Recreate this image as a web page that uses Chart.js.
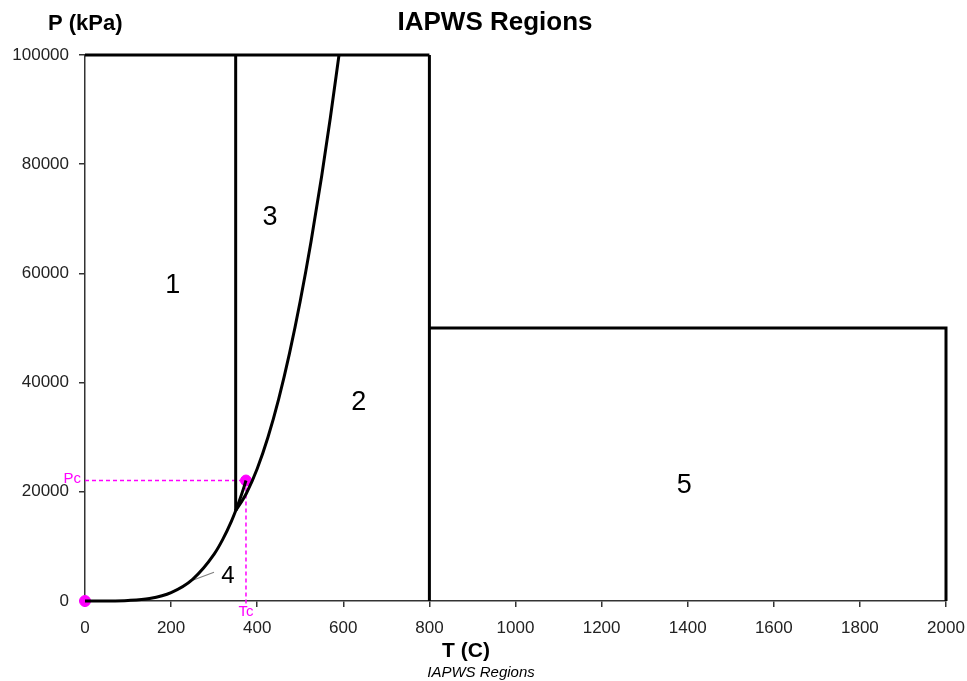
<!DOCTYPE html>
<html>
<head>
<meta charset="utf-8">
<script src="https://cdn.jsdelivr.net/npm/chart.js@4.4.1/dist/chart.umd.min.js"></script>
<style>
html,body{margin:0;padding:0;background:#fff;}
#wrap{width:967px;height:681px;position:relative;}
</style>
</head>
<body>
<div id="wrap"><canvas id="c"></canvas></div>
<script>
// ---- data (T in °C, P in kPa) ----
const xTicks = [0,200,400,600,800,1000,1200,1400,1600,1800,2000];
const yTicks = [0,20000,40000,60000,80000,100000];

const topT = [0, 800];
const topP = [100000, 100000];
const v350T = [350, 350];
const v350P = [16529, 100000];
const v800T = [800, 800];
const v800P = [0, 100000];
const r5T = [800, 2000, 2000];
const r5P = [50000, 50000, 0];

const satT = [0, 50, 100, 150, 200, 250, 300, 320, 340, 350, 360, 370, 373.946];
const satP = [0.6, 12.4, 101.4, 476.2, 1554.9, 3976.2, 8587.9, 11284, 14587, 16529, 18666, 21044, 22064];

const b23T = [350, 375, 400, 425, 450, 475, 500, 525, 550, 570, 590];
const b23P = [16529, 19745, 24236, 30000, 37039, 45351, 54939, 65799, 77935, 88560, 100000];

const critT = 373.946;
const critP = 22064;
const pcLineT = [0, critT];
const pcLineP = [critP, critP];
const tcLineT = [critT, critT];
const tcLineP = [critP, -900];
const markT = [0, critT];
const markP = [0, critP];

const leaderT = [251.6, 299.7];
const leaderP = [3846, 5256];

const regionNames = ["1", "3", "2", "5", "4"];
const regionT = [204, 430, 636, 1392, 332];
const regionP = [57700, 70300, 36400, 21200, 4500];

function pts(xs, ys){ return xs.map((x,i)=>({x:x, y:ys[i]})); }

const FONT = "'Liberation Sans', Arial, sans-serif";
const black = '#000';

function lineDs(xs, ys, extra){
  return Object.assign({
    data: pts(xs, ys), showLine: true, borderColor: black, borderWidth: 3,
    pointRadius: 0, fill: false, tension: 0, clip: 6
  }, extra||{});
}

const textPlugin = {
  id: 'texts',
  afterDatasetsDraw(chart){
    const ctx = chart.ctx, xs = chart.scales.x, ys = chart.scales.y;
    ctx.save();
    ctx.textAlign = 'center';
    ctx.textBaseline = 'middle';
    ctx.fillStyle = '#000';
    regionNames.forEach((t,i)=>{
      ctx.font = (t === '4' ? '24px ' : '27px ') + FONT;
      ctx.fillText(t, xs.getPixelForValue(regionT[i]), ys.getPixelForValue(regionP[i]));
    });
    // magenta labels
    ctx.fillStyle = '#ff00ff';
    ctx.font = '15px ' + FONT;
    ctx.textAlign = 'right';
    ctx.fillText('Pc', xs.left - 4, ys.getPixelForValue(critP) - 2);
    ctx.textAlign = 'center';
    ctx.fillText('Tc', xs.getPixelForValue(critT), ys.bottom + 11);
    // titles
    ctx.fillStyle = '#000';
    ctx.font = 'bold 26px ' + FONT;
    ctx.fillText('IAPWS Regions', 495, 23);
    ctx.font = 'bold 22px ' + FONT;
    ctx.textAlign = 'left';
    ctx.fillText('P (kPa)', 48, 24);
    ctx.textAlign = 'center';
    ctx.font = 'bold 21px ' + FONT;
    ctx.fillText('T (C)', 466, 651);
    ctx.font = 'italic 15px ' + FONT;
    ctx.fillText('IAPWS Regions', 481, 673);
    ctx.restore();
  }
};

new Chart(document.getElementById('c'), {
  type: 'scatter',
  data: {
    datasets: [
      lineDs(topT, topP),
      lineDs(v350T, v350P),
      lineDs(v800T, v800P),
      lineDs(r5T, r5P),
      lineDs(satT, satP, {cubicInterpolationMode: 'monotone'}),
      lineDs(b23T, b23P, {cubicInterpolationMode: 'monotone'}),
      lineDs(leaderT, leaderP, {borderColor: '#808080', borderWidth: 1.2}),
      lineDs(pcLineT, pcLineP, {borderColor: '#ff00ff', borderWidth: 1.5, borderDash: [4,3], clip: false}),
      lineDs(tcLineT, tcLineP, {borderColor: '#ff00ff', borderWidth: 1.5, borderDash: [4,3], clip: false}),
      {data: pts(markT, markP), showLine: false, pointRadius: 5.5, pointBackgroundColor: '#ff00ff',
       pointBorderColor: '#ff00ff', pointBorderWidth: 1, clip: false}
    ]
  },
  options: {
    responsive: true,
    maintainAspectRatio: false,
    animation: false,
    events: [],
    layout: {padding: {left: 0, right: 21, top: 55, bottom: 0}},
    plugins: {legend: {display: false}, tooltip: {enabled: false}, title: {display: false}},
    scales: {
      x: {
        type: 'linear', min: 0, max: 2000,
        afterBuildTicks: (s)=>{ s.ticks = xTicks.map(v=>({value:v})); },
        afterFit: (s)=>{ s.height = 80; s.paddingLeft = 0; s.paddingRight = 0; },
        grid: {display: true, drawOnChartArea: false, drawTicks: true, tickLength: 6, color: '#333', lineWidth: 1.5},
        border: {display: true, color: '#333', width: 1.5},
        ticks: {color: '#222', font: {family: FONT, size: 17}, padding: 11, maxRotation: 0, autoSkip: false,
                callback: (v)=>String(v)}
      },
      y: {
        type: 'linear', min: 0, max: 100000,
        afterBuildTicks: (s)=>{ s.ticks = yTicks.map(v=>({value:v})); },
        afterFit: (s)=>{ s.width = 85; s.paddingTop = 0; s.paddingBottom = 0; },
        grid: {display: true, drawOnChartArea: false, drawTicks: true, tickLength: 6, color: '#333', lineWidth: 1.5},
        border: {display: true, color: '#333', width: 1.5},
        ticks: {color: '#222', font: {family: FONT, size: 17}, padding: 10, autoSkip: false,
                callback: (v)=>String(v)}
      }
    }
  },
  plugins: [textPlugin]
});
</script>
</body>
</html>
